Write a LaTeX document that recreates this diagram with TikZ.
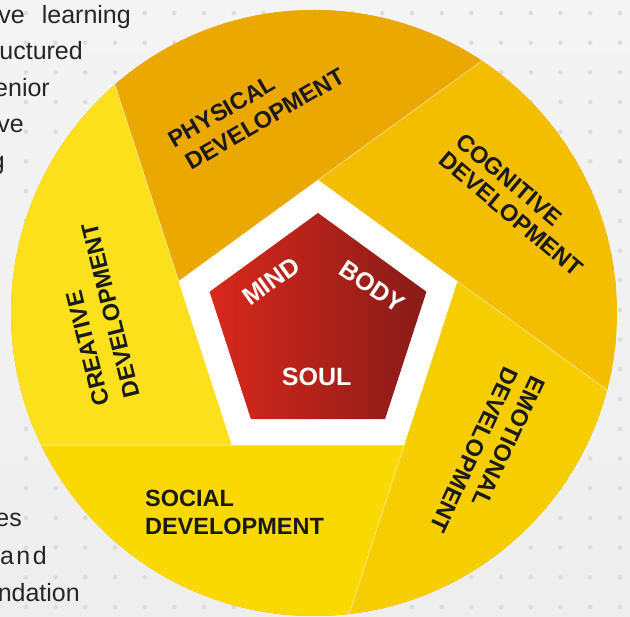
\documentclass[tikz,border=0pt]{standalone}
\usepackage{fontspec}
\setmainfont{Liberation Sans}
\usetikzlibrary{calc}
\definecolor{bgtop}{HTML}{F4F4F4}
\definecolor{bgbot}{HTML}{EEEEEE}
\definecolor{dotc}{HTML}{DCDCDC}
\definecolor{physc}{HTML}{EBA800}
\definecolor{cogc}{HTML}{F3BE00}
\definecolor{emoc}{HTML}{F6CE00}
\definecolor{socc}{HTML}{F9D900}
\definecolor{crec}{HTML}{FBE01B}
\definecolor{redl}{HTML}{D9281C}
\definecolor{redr}{HTML}{871B18}
\definecolor{labelc}{HTML}{1A1A1A}
\definecolor{bodyc}{HTML}{262626}
\begin{document}
\begin{tikzpicture}[x=1pt,y=-1pt,
  lbl/.style={font=\fontsize{23.5}{28}\selectfont\bfseries, text=labelc, inner sep=0pt},
  core/.style={font=\fontsize{25}{30}\selectfont\bfseries, text=white, inner sep=0pt},
  para/.style={font=\fontsize{25}{30}\selectfont, text=bodyc, inner sep=0pt, anchor=base east},
  sector/.style={draw=white, draw opacity=0.45, line width=0.6pt}]
\useasboundingbox (0,0) rectangle (630,617);
\shade[top color=bgtop, bottom color=bgbot] (0,0) rectangle (630,617);
\foreach \i in {-13,...,7}
  \foreach \j in {0,...,20}
    \fill[dotc] ({412+29.7*\i},{13+29.7*\j}) circle[radius=2.3pt];
% paragraph fragments
\node[para] (p1) at (131,24) {ve\hspace{17pt}learning};
\node[para] (p2) at (83,60) {uctured};
\node[para] (p3) at (50,97) {enior};
\node[para] (p4) at (24,133) {ve};
\node[para] (p5) at (5,170) {g};
\node[para] (p6) at (22,527) {es};
\node[para] (p7) at (47,565) {a\hspace{2.5pt}n\hspace{2.5pt}d};
\node[para] (p8) at (80,602) {ndation};
% pentagon vertices
\coordinate (wT) at (318,180);
\coordinate (wR) at (457.33,281.23);
\coordinate (wBR) at (404.11,445.02);
\coordinate (wBL) at (231.89,445.02);
\coordinate (wL) at (178.67,281.23);
\coordinate (rT) at (318,213);
\coordinate (rR) at (426.42,291.77);
\coordinate (rBR) at (385.01,419.23);
\coordinate (rBL) at (250.99,419.23);
\coordinate (rL) at (209.58,291.77);
\begin{scope}
  \clip (314,313) circle[radius=303pt];
  \fill[physc] (314,313) circle[radius=303pt];
  \filldraw[fill=physc, sector] (wL) -- (wT) -- ($(wT)!-3!(wL)$) -- ($(wL)!-3!(wBL)$) -- cycle;
  \filldraw[fill=cogc, sector] (wT) -- (wR) -- ($(wR)!-3!(wT)$) -- ($(wT)!-3!(wL)$) -- cycle;
  \filldraw[fill=emoc, sector] (wR) -- (wBR) -- ($(wBR)!-3!(wR)$) -- ($(wR)!-3!(wT)$) -- cycle;
  \filldraw[fill=socc, sector] (wBR) -- (wBL) -- ($(wBL)!-3!(wBR)$) -- ($(wBR)!-3!(wR)$) -- cycle;
  \filldraw[fill=crec, sector] (wBL) -- (wL) -- ($(wL)!-3!(wBL)$) -- ($(wBL)!-3!(wBR)$) -- cycle;
\end{scope}
\fill[white] (wT) -- (wR) -- (wBR) -- (wBL) -- (wL) -- cycle;
\shade[left color=redl, right color=redr] (rT) -- (rR) -- (rBR) -- (rBL) -- (rL) -- cycle;
% sector labels
\node[lbl, rotate=30] (phys1) at (221.7,111.3) {PHYSICAL};
\node[lbl, rotate=30] (phys2) at (265,119.2) {DEVELOPMENT};
\node[lbl, rotate=-40] (cog1) at (509.2,179.5) {COGNITIVE};
\node[lbl, rotate=-40] (cog2) at (510.8,214.2) {DEVELOPMENT};
\node[lbl, rotate=-115] (emo1) at (508.7,441.7) {EMOTIONAL};
\node[lbl, rotate=-115] (emo2) at (474.2,450.3) {DEVELOPMENT};
\node[lbl] (soc1) at (189.5,498.5) {SOCIAL};
\node[lbl] (soc2) at (234.5,526) {DEVELOPMENT};
\node[lbl, rotate=104] (cre1) at (87.5,348.5) {CREATIVE};
\node[lbl, rotate=104] (cre2) at (110.5,310.5) {DEVELOPMENT};
% core words
\node[core, rotate=35.6] (mind) at (271,281.3) {MIND};
\node[core, rotate=-33.7] (body) at (372.5,286.7) {BODY};
\node[core] (soul) at (316.7,376.7) {SOUL};
\end{tikzpicture}
\end{document}
